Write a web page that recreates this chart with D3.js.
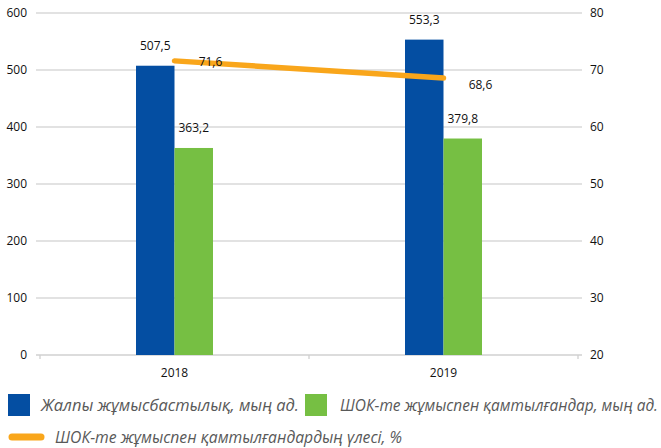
<!DOCTYPE html>
<html><head><meta charset="utf-8">
<script src="https://cdn.jsdelivr.net/npm/d3@7"></script>
<style>body{margin:0;background:#fff}svg{display:block;font-family:"Open Sans","Noto Sans",sans-serif}</style>
</head><body><svg id="c" width="661" height="448"></svg>
<script>
const categories = ["2018", "2019"];
const totalEmployment = [507.5, 553.3];
const smeEmployment = [363.2, 379.8];
const smeShare = [71.6, 68.6];
const leftTicks = [0, 100, 200, 300, 400, 500, 600];
const rightTicks = [20, 30, 40, 50, 60, 70, 80];
const seriesNames = ["Жалпы жұмысбастылық, мың ад.", "ШОК-те жұмыспен қамтылғандар, мың ад.", "ШОК-те жұмыспен қамтылғандардың үлесі, %"];
const fmt = v => v.toFixed(1).replace(".", ",");

const svg = d3.select("#c");
const L = 40, R = 578, T = 13, B = 355;
const x = d3.scaleBand().domain(categories).range([L, R]);
const yL = d3.scaleLinear().domain([0, 600]).range([B, T]);
const yR = d3.scaleLinear().domain([20, 80]).range([B, T]);
const bw = 38.5;

// gridlines
svg.append("g").selectAll("line").data(leftTicks.slice(1)).join("line")
  .attr("x1", L - 4).attr("x2", R + 4).attr("y1", d => yL(d)).attr("y2", d => yL(d))
  .attr("stroke", "#d9d9d9").attr("stroke-width", 1.3);
// baseline
svg.append("line").attr("x1", L - 4).attr("x2", R + 4).attr("y1", B).attr("y2", B)
  .attr("stroke", "#d0d0d0").attr("stroke-width", 1.3);
svg.append("g").selectAll("line").data([L, x("2019"), R]).join("line")
  .attr("x1", d => d).attr("x2", d => d).attr("y1", B).attr("y2", B + 4)
  .attr("stroke", "#d0d0d0").attr("stroke-width", 1.3);

// left axis labels
svg.append("g").selectAll("text").data(leftTicks).join("text")
  .attr("x", 27).attr("y", d => yL(d)).attr("dy", "0.35em").attr("text-anchor", "end")
  .attr("font-size", 12).attr("fill", "#111").text(d => d);
// right axis labels
svg.append("g").selectAll("text").data(rightTicks).join("text")
  .attr("x", 590).attr("y", d => yR(d)).attr("dy", "0.35em").attr("text-anchor", "start")
  .attr("font-size", 12).attr("fill", "#111").text(d => d);
// category labels
svg.append("g").selectAll("text").data(categories).join("text")
  .attr("x", d => x(d) + x.bandwidth() / 2).attr("y", 377).attr("text-anchor", "middle")
  .attr("font-size", 12).attr("fill", "#111").text(d => d);

const cx = c => x(c) + x.bandwidth() / 2;
// bars
svg.append("g").selectAll("rect").data(categories).join("rect")
  .attr("x", d => cx(d) - bw).attr("width", bw)
  .attr("y", (d, i) => yL(totalEmployment[i])).attr("height", (d, i) => B - yL(totalEmployment[i]))
  .attr("fill", "#044EA2");
svg.append("g").selectAll("rect").data(categories).join("rect")
  .attr("x", d => cx(d)).attr("width", bw)
  .attr("y", (d, i) => yL(smeEmployment[i])).attr("height", (d, i) => B - yL(smeEmployment[i]))
  .attr("fill", "#76BF43");

// line
svg.append("path").datum(categories)
  .attr("d", d3.line().x(d => cx(d)).y((d, i) => yR(smeShare[i])))
  .attr("fill", "none").attr("stroke", "#F9A61B").attr("stroke-width", 5.5).attr("stroke-linecap", "round");

// labels
const lab = svg.append("g").attr("font-size", 12).attr("fill", "#111");
categories.forEach((c, i) => {
  lab.append("text").attr("x", cx(c) - bw / 2).attr("y", yL(totalEmployment[i]) - 16).attr("text-anchor", "middle").text(fmt(totalEmployment[i]));
  lab.append("text").attr("x", cx(c) + bw / 2).attr("y", yL(smeEmployment[i]) - 16).attr("text-anchor", "middle").text(fmt(smeEmployment[i]));
});
lab.append("text").attr("x", cx("2018") + 36).attr("y", yR(smeShare[0]) + 5).attr("text-anchor", "middle").text(fmt(smeShare[0]));
lab.append("text").attr("x", cx("2019") + 37).attr("y", yR(smeShare[1]) + 11).attr("text-anchor", "middle").text(fmt(smeShare[1]));

// legend
const lg = svg.append("g").attr("font-size", 15.5).attr("font-style", "italic").attr("fill", "#595959");
lg.append("rect").attr("x", 8).attr("y", 394).attr("width", 22).attr("height", 22).attr("fill", "#044EA2");
lg.append("text").attr("x", 41).attr("y", 411).attr("textLength", 258).attr("lengthAdjust", "spacingAndGlyphs").text(seriesNames[0]);
lg.append("rect").attr("x", 305).attr("y", 394).attr("width", 22).attr("height", 22).attr("fill", "#76BF43");
lg.append("text").attr("x", 340).attr("y", 411).attr("textLength", 318).attr("lengthAdjust", "spacingAndGlyphs").text(seriesNames[1]);
lg.append("line").attr("x1", 12).attr("x2", 41).attr("y1", 437).attr("y2", 437)
  .attr("stroke", "#F9A61B").attr("stroke-width", 7).attr("stroke-linecap", "round");
lg.append("text").attr("x", 55).attr("y", 443).attr("textLength", 347).attr("lengthAdjust", "spacingAndGlyphs").text(seriesNames[2]);
</script></body></html>
